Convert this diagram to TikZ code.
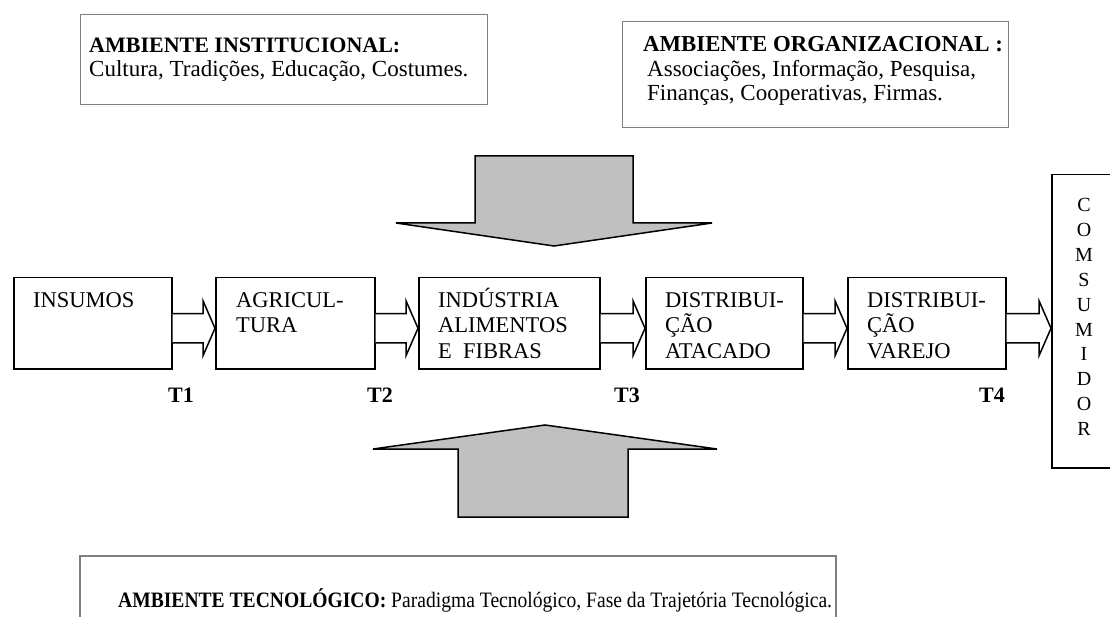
\documentclass[tikz,border=0pt]{standalone}
\usepackage{fontspec}
\setmainfont{Liberation Serif}
\usetikzlibrary{calc}
\definecolor{envgray}{HTML}{808080}
\definecolor{arrgray}{HTML}{C0C0C0}
\tikzset{
  rowbox/.style={draw=black, line width=1.5pt, inner sep=0pt, anchor=north west},
  envbox/.style={draw=envgray, line width=1.3pt, inner sep=0pt, anchor=north west},
  txt/.style={inner sep=0pt, anchor=base west, font=\fontsize{22.5}{25}\selectfont},
  toptxt/.style={inner sep=0pt, anchor=base west, font=\fontsize{23}{25}\selectfont},
  tlabel/.style={inner sep=0pt, anchor=base, font=\fontsize{22}{25}\selectfont\bfseries},
  flowarr/.style={draw=black, line width=1.5pt, fill=white, line join=miter},
  bigarr/.style={draw=black, line width=1.5pt, fill=arrgray, line join=miter}
}
\newcommand\flowarrow[2]{%
  \draw[flowarr] let \p1=(#1.east), \p2=(#2.west) in
    (\x1,\y1+9.5) -- (\x2-12,\y1+9.5) -- (\x2-12,\y1+22.5) -- (\x2,\y1-5)
    -- (\x2-12,\y1-32.5) -- (\x2-12,\y1-19.5) -- (\x1,\y1-19.5);}
\begin{document}
\begin{tikzpicture}[x=1pt,y=-1pt]
\useasboundingbox (0,0) rectangle (1110,617);
\clip (0,0) rectangle (1110,617);
\fill[white] (0,0) rectangle (1110,617);

% environment boxes
\node[envbox, minimum width=407, minimum height=90] (inst) at (80,14) {};
\node[toptxt, font=\fontsize{22}{25}\selectfont\bfseries] (inst1) at (89,53) {AMBIENTE INSTITUCIONAL:};
\node[toptxt] (inst2) at (89,77) {Cultura, Tradições, Educação, Costumes.};

\node[envbox, minimum width=386, minimum height=106] (org) at (622,21) {};
\node[toptxt, font=\fontsize{22.8}{25}\selectfont\bfseries] (org1) at (643,52) {AMBIENTE ORGANIZACIONAL :};
\node[toptxt] (org2) at (647,77) {Associações, Informação, Pesquisa,};
\node[toptxt] (org3) at (647,101) {Finanças, Cooperativas, Firmas.};

% big arrows
\draw[bigarr] (475,156) -- (633,156) -- (633,223) -- (712,223) -- (554,246)
  -- (396,223) -- (475,223) -- cycle;
\draw[bigarr] (458,517) -- (628,517) -- (628,449) -- (717,449) -- (545,425)
  -- (373,449) -- (458,449) -- cycle;

% chain boxes
\node[rowbox, minimum width=158, minimum height=91] (ins) at (13,277) {};
\node[rowbox, minimum width=159, minimum height=91] (agr) at (215,277) {};
\node[rowbox, minimum width=181, minimum height=91] (ind) at (418,277) {};
\node[rowbox, minimum width=157, minimum height=91] (ata) at (645,277) {};
\node[rowbox, minimum width=158, minimum height=91] (var) at (847,277) {};
\node[rowbox, minimum width=70, minimum height=293] (con) at (1051,174) {};

\begin{scope}
\clip (ins.north west) rectangle ([yshift=10pt]ins.south east);
\node[txt] (ins1) at (33,308) {INSUMOS};
\end{scope}
\begin{scope}
\clip (agr.north west) rectangle ([yshift=10pt]agr.south east);
\node[txt] (agr1) at (236,308) {AGRICUL-};
\node[txt] (agr2) at (236,333) {TURA};
\end{scope}
\begin{scope}
\clip (ind.north west) rectangle ([yshift=10pt]ind.south east);
\node[txt] (ind1) at (438,308) {INDÚSTRIA};
\node[txt] (ind2) at (438,333) {ALIMENTOS};
\node[txt] (ind3) at (438,358) {E\ \ FIBRAS};
\end{scope}
\begin{scope}
\clip (ata.north west) rectangle ([yshift=10pt]ata.south east);
\node[txt] (ata1) at (665,308) {DISTRIBUI-};
\node[txt] (ata2) at (665,333) {ÇÃO};
\node[txt] (ata3) at (665,358) {ATACADO};
\end{scope}
\begin{scope}
\clip (var.north west) rectangle ([yshift=10pt]var.south east);
\node[txt] (var1) at (867,308) {DISTRIBUI-};
\node[txt] (var2) at (867,333) {ÇÃO};
\node[txt] (var3) at (867,358) {VAREJO};
\end{scope}

\node[inner sep=0pt, align=center, font=\fontsize{20}{24.9}\selectfont] (conT) at (1084,317)
  {C\\O\\M\\S\\U\\M\\I\\D\\O\\R};

% flow arrows
\flowarrow{ins}{agr}
\flowarrow{agr}{ind}
\flowarrow{ind}{ata}
\flowarrow{ata}{var}
\flowarrow{var}{con}

% transaction labels
\node[tlabel] (t1) at (181,402) {T1};
\node[tlabel] (t2) at (380,402) {T2};
\node[tlabel] (t3) at (627,402) {T3};
\node[tlabel] (t4) at (992,402) {T4};

% technological environment
\draw[envgray, line width=1.3pt] (80,640) -- (80,556) -- (836,556) -- (836,640);
\node[txt, font=\fontsize{22}{25}\selectfont, xscale=0.89, transform shape] (tec) at (118,607)
  {\textbf{AMBIENTE TECNOLÓGICO:} Paradigma Tecnológico, Fase da Trajetória Tecnológica.};
\end{tikzpicture}
\end{document}
